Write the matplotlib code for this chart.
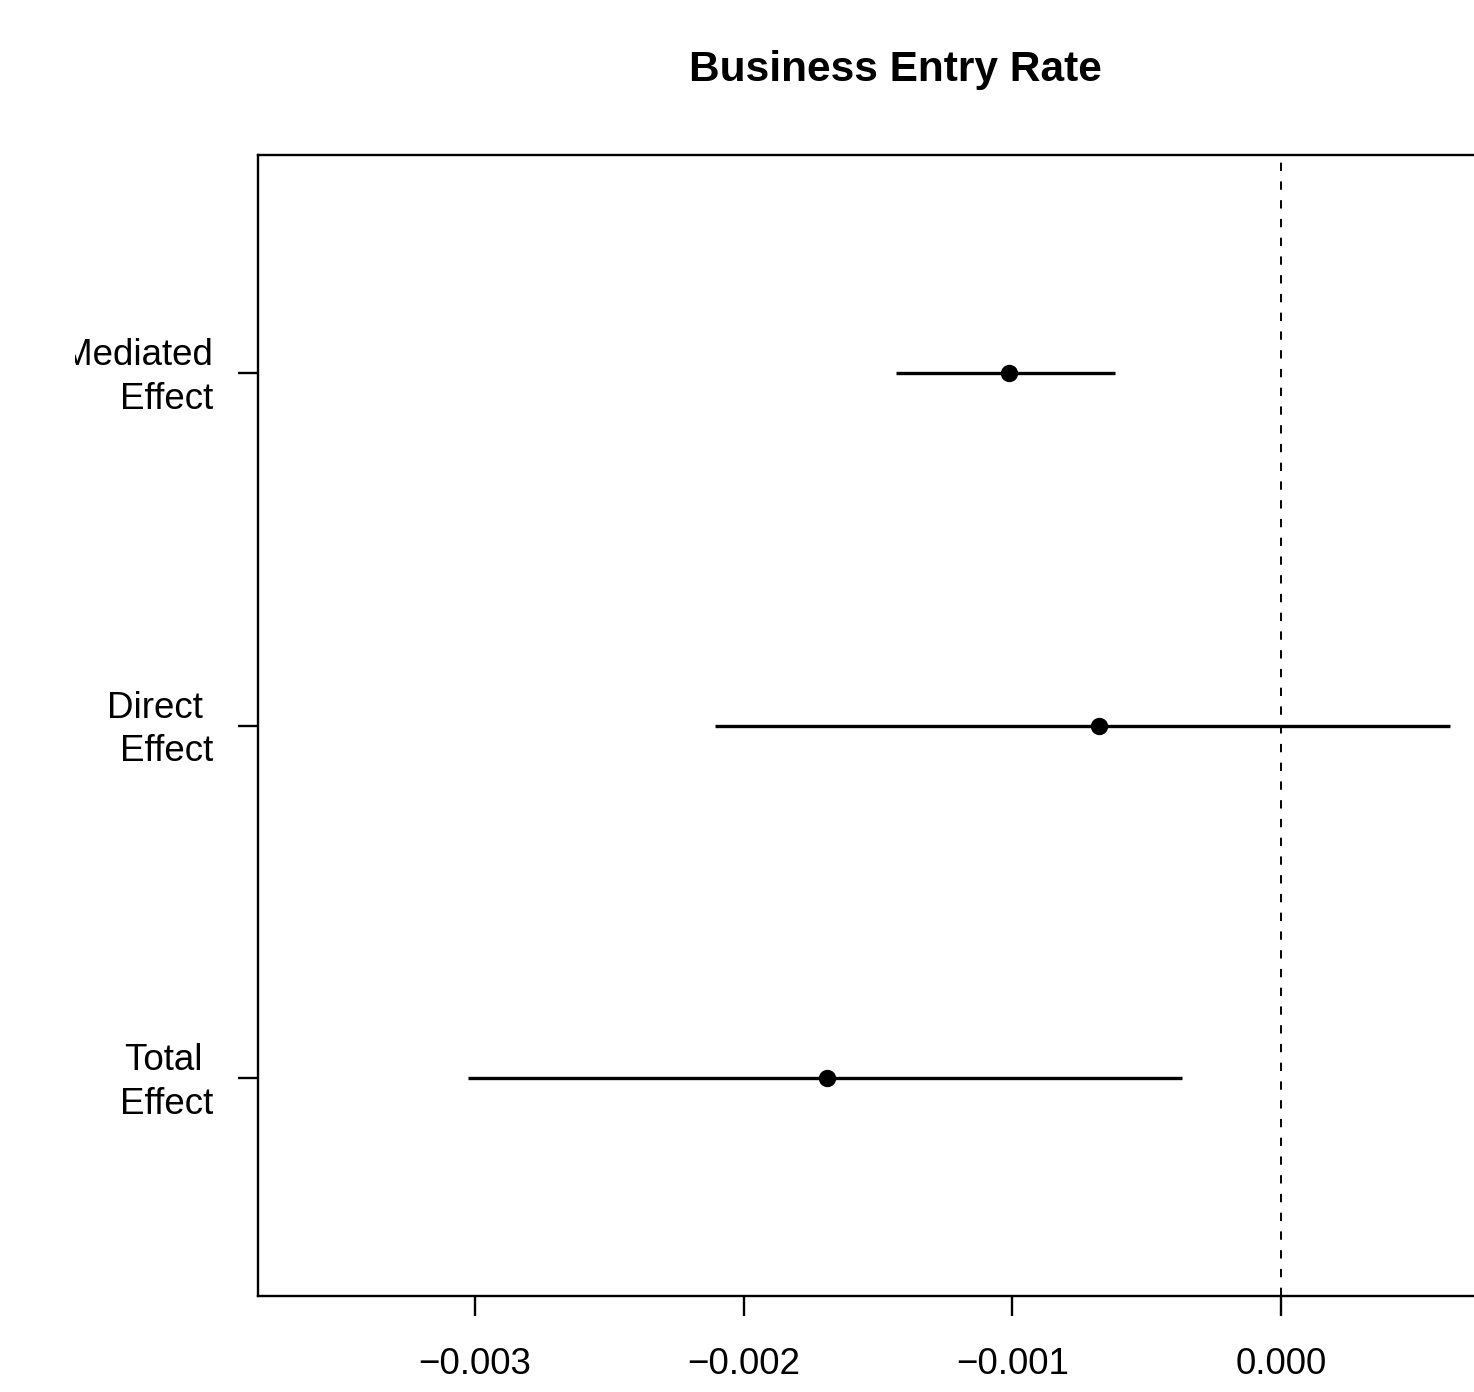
import matplotlib
matplotlib.use("Agg")
import matplotlib.pyplot as plt
from matplotlib.transforms import Bbox, TransformedBbox, ScaledTranslation

plt.rcParams["font.family"] = ["Liberation Sans", "DejaVu Sans"]
plt.rcParams["lines.scale_dashes"] = False

# mediation estimates with 95% intervals
effects = ["Total \nEffect", "Direct \nEffect", "Mediated\nEffect"]
estimate = [-0.001691, -0.000677, -0.001011]
ci_low = [-0.003026, -0.002108, -0.001435]
ci_high = [-0.000368, 0.000628, -0.000617]
xticks = [-0.003, -0.002, -0.001, 0.000]

fig = plt.figure(figsize=(14.74, 13.92), dpi=100)
# plot region runs past the right edge of the device
ax = fig.add_axes([258 / 1474, 96 / 1392, 1274 / 1474, 1141 / 1392])

ypos = list(range(1, len(effects) + 1))
ax.hlines(ypos, ci_low, ci_high, color="black", lw=2.4)
ax.plot(estimate, ypos, "o", color="black", ms=11.5)
ax.axvline(0, color="black", lw=1.4, ls=(0, (6, 7.5)))

ax.set_xlim(-0.003807, 0.000933)
ax.set_ylim(0.38, 3.62)

ax.set_xticks(xticks)
ax.set_xticklabels([f"{v:.3f}".replace("-", "\u2212") for v in xticks])
ax.set_yticks(ypos)
ax.set_yticklabels(effects, ha="right", multialignment="right", linespacing=1.33)
ax.tick_params(axis="both", direction="out", length=14.4, width=1.7,
               labelsize=26.5)
ax.tick_params(axis="x", pad=22.5)
ax.tick_params(axis="y", pad=18)
for s in ax.spines.values():
    s.set_linewidth(1.7)

# the device margin cuts off the left of the long label
clip = TransformedBbox(Bbox([[75 / 1474, 0], [1, 1]]), fig.transFigure)
nudge = ScaledTranslation(0, 0.04, fig.dpi_scale_trans)
for lab in ax.get_yticklabels():
    lab.set_transform(lab.get_transform() + nudge)
    lab.set_clip_box(clip)
    lab.set_clip_on(True)

fig.text((258 + 1532) / 2 / 1474, 1 - 70 / 1392, "Business Entry Rate",
         ha="center", va="center", fontsize=30.5, fontweight="bold")

fig.savefig("out.png", dpi=100)
